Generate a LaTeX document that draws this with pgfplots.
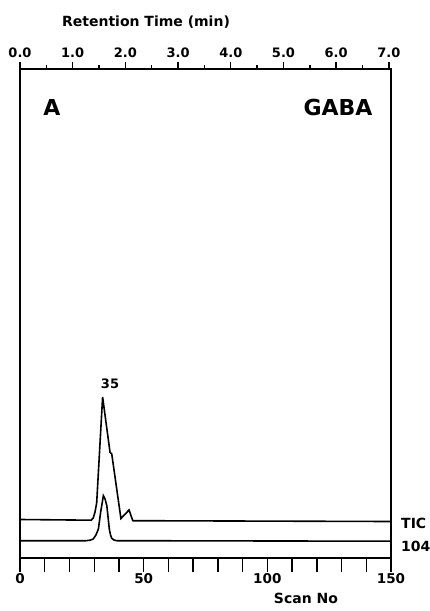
\documentclass[border=0pt]{standalone}
\usepackage{pgfplots}
\pgfplotsset{compat=1.18}
\usepackage{fontspec}
\setmainfont{DejaVu Sans}
\begin{document}
\begin{tikzpicture}[x=1pt,y=1pt]
\path[use as bounding box] (0,0) rectangle (429,611);
% bottom axis: scan number
\begin{axis}[
  at={(20pt,53pt)}, anchor=south west,
  scale only axis, width=371pt, height=489pt,
  xmin=0, xmax=150, ymin=0, ymax=489,
  axis line style={line width=1.7pt},
  xtick={0,50,100,150},
  minor xtick={10,20,30,40,60,70,80,90,110,120,130,140},
  xtick pos=bottom, ytick=\empty,
  tick align=outside,
  major tick length=14pt, minor tick length=14pt,
  every tick/.style={line width=1.4pt, black},
  every minor tick/.style={line width=1.4pt, black},
  /pgf/number format/assume math mode=true,
  xticklabel style={font=\fontsize{13.5}{15}\selectfont\bfseries, yshift=2pt},
  clip=false,
]
\addplot[black, line width=1.6pt] coordinates {
(0,38.5) (28.8,37.8) (29.6,40) (30.3,45.7) (31.0,55) (33.4,161) (36.4,105.7)
(37.1,104) (40.8,39.5) (44.1,48) (45.6,37.3) (149.5,36.5)};
\addplot[black, line width=1.6pt] coordinates {
(0,17.3) (26.3,17.2) (28.3,17.8) (29.6,19) (30.7,23) (31.7,29) (32.6,45.7) (33.7,62.3)
(34.4,59) (35.1,52.3) (35.6,41) (36.1,29) (36.6,23) (37.1,19.7) (38.0,18)
(39.1,17.3) (149.5,16.8)};
\end{axis}
% top axis: retention time
\begin{axis}[
  at={(20pt,53pt)}, anchor=south west,
  scale only axis, width=371pt, height=489pt,
  xmin=0, xmax=7.04, ymin=0, ymax=1,
  axis x line*=top, axis y line=none,
  axis line style={line width=1.7pt},
  xtick={0,1,2,3,4,5,6,7},
  minor xtick={0.5,1.5,2.5,3.5,4.5,5.5,6.5},
  tick align=outside,
  major tick length=7pt, minor tick length=3.5pt,
  every tick/.style={line width=1.4pt, black},
  every minor tick/.style={line width=1.4pt, black},
  /pgf/number format/assume math mode=true,
  xticklabel={\pgfmathprintnumber[fixed,fixed zerofill,precision=1]{\tick}},
  xticklabel style={font=\fontsize{13}{15}\selectfont\bfseries, yshift=1pt},
]
\addplot[draw=none] coordinates {(0,0)};
\end{axis}
\node[font=\fontsize{14}{16}\selectfont\bfseries] at (146,589) {Retention Time (min)};
\node[font=\fontsize{22}{24}\selectfont\bfseries] at (52,504) {A};
\node[font=\fontsize{22}{24}\selectfont\bfseries] at (338,504) {GABA};
\node[font=\fontsize{13}{15}\selectfont\bfseries] at (110,227) {35};
\node[font=\fontsize{14}{16}\selectfont\bfseries, anchor=west, inner sep=0pt] at (401,88) {TIC};
\node[font=\fontsize{14}{16}\selectfont\bfseries, anchor=west, inner sep=0pt] at (401,65) {104};
\node[font=\fontsize{14}{16}\selectfont\bfseries] at (306,13) {Scan No};
\end{tikzpicture}
\end{document}
